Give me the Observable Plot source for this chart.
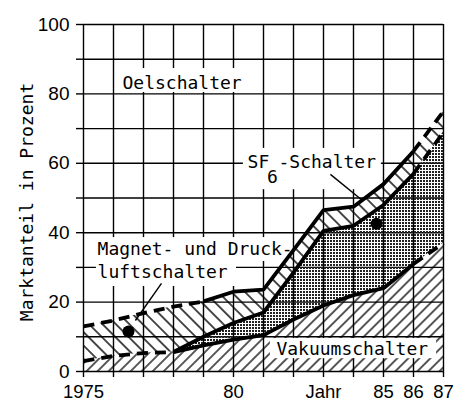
<!DOCTYPE html>
<html><head><meta charset="utf-8">
<script src="https://cdn.jsdelivr.net/npm/d3@7"></script>
<script src="https://cdn.jsdelivr.net/npm/@observablehq/plot@0.6"></script>
<style>body{margin:0;background:#fff}</style>
</head><body><div id="chart"></div>
<script>
// Data (market share in %, stacked bottom → top: Vakuum, SF6, Magnet/Druckluft, Oel)
const years   = [1975, 1976, 1977, 1978, 1979, 1980, 1981, 1982, 1983, 1984, 1985, 1986, 1987];
const vakuum  = [3, 4.5, 5.3, 5.6, 7.5, 9.2, 10.5, 15, 19, 22, 24, 31, 37];
const sf6     = [0, 0, 0, 0, 2.5, 4.8, 6.5, 13.5, 21.5, 20, 24, 26, 32];
const magnet  = [10, 10.2, 11.5, 13.1, 10.2, 9, 6.6, 6.5, 6, 5.5, 6, 6.5, 6];
const yTicks  = [0, 10, 20, 30, 40, 50, 60, 70, 80, 90, 100];
const xLabels = {1975: "1975", 1980: "80", 1983: "Jahr", 1985: "85", 1986: "86", 1987: "87"};
const yTitle  = "Marktanteil in Prozent";

// Annotations (data coordinates)
const labels = [
  {x: 1976.3,  y: 83.2, text: "Oelschalter"},
  {x: 1980.47, y: 60.2, text: "SF"},
  {x: 1981.12, y: 56.1, text: "6"},
  {x: 1981.5,  y: 60.2, text: "-Schalter"},
  {x: 1975.47, y: 35.1, text: "Magnet- und Druck-"},
  {x: 1975.47, y: 28.5, text: "luftschalter"},
  {x: 1981.43, y: 6.3,  text: "Vakuumschalter"}
];
const boxesBack = [
  {x1: 1976.17, x2: 1980.45, y1: 80.4, y2: 87.3},
  {x1: 1980.33, x2: 1984.93, y1: 52.4, y2: 64.3},
  {x1: 1975.43, x2: 1981.9,  y1: 31.7, y2: 38.6},
  {x1: 1975.43, x2: 1980.1,  y1: 24.5, y2: 31.7}
];
const boxesFront = [{x1: 1981.23, x2: 1986.77, y1: 3.7, y2: 9.5}];
const markers = [{x: 1976.5, y: 11.5}, {x: 1984.77, y: 42.6}];
const leaders = [
  {x1: 1977.6, y1: 25.4, x2: 1976.73, y2: 14.7},
  {x1: 1983.23, y1: 56.8, x2: 1984.3, y2: 49.3}
];

const rows = years.map((year, i) => {
  const v = vakuum[i], s = v + sf6[i], m = s + magnet[i];
  return {year, v, s, m};
});
const seg = (a, b) => rows.filter(d => d.year >= a && d.year <= b);

const mono = "DejaVu Sans Mono";
const sans = "Liberation Sans";
const thick = {strokeWidth: 3.8, stroke: "black", strokeLinecap: "butt", strokeLinejoin: "miter"};
const dash = {...thick, strokeDasharray: "11,7"};

const chart = Plot.plot({
  width: 465, height: 403,
  marginLeft: 83, marginRight: 22, marginTop: 24, marginBottom: 32,
  style: {background: "white", color: "black", overflow: "visible"},
  x: {domain: [1975, 1987], label: null, inset: 0},
  y: {domain: [0, 100], label: null, inset: 0},
  marks: [
    Plot.gridX({ticks: years, stroke: "black", strokeOpacity: 1, strokeWidth: 1.4}),
    Plot.gridY({ticks: yTicks, stroke: "black", strokeOpacity: 1, strokeWidth: 1.4}),
    Plot.rect(boxesBack, {x1: "x1", x2: "x2", y1: "y1", y2: "y2", fill: "white"}),
    Plot.areaY(rows, {x: "year", y1: 0, y2: "v", fill: "url(#hVak)", curve: "linear"}),
    Plot.areaY(rows, {x: "year", y1: "v", y2: "s", fill: "url(#dotSF6)", curve: "linear"}),
    Plot.areaY(rows, {x: "year", y1: "s", y2: "m", fill: "url(#hMag)", curve: "linear"}),
    Plot.rect(boxesFront, {x1: "x1", x2: "x2", y1: "y1", y2: "y2", fill: "white"}),
    // boundary lines
    Plot.line(seg(1975, 1978), {x: "year", y: "v", ...dash}),
    Plot.line(seg(1978, 1986), {x: "year", y: "v", ...thick}),
    Plot.line(seg(1986, 1987), {x: "year", y: "v", ...dash}),
    Plot.line(seg(1978, 1986), {x: "year", y: "s", ...thick}),
    Plot.line(seg(1986, 1987), {x: "year", y: "s", ...dash}),
    Plot.line(seg(1975, 1979), {x: "year", y: "m", ...dash}),
    Plot.line(seg(1979, 1986), {x: "year", y: "m", ...thick}),
    Plot.line(seg(1986, 1987), {x: "year", y: "m", ...dash}),
    Plot.dot(markers, {x: "x", y: "y", r: 6, fill: "black", stroke: null}),
    Plot.link(leaders, {x1: "x1", y1: "y1", x2: "x2", y2: "y2", stroke: "black", strokeWidth: 1.4}),
    Plot.text(labels, {x: "x", y: "y", text: "text", textAnchor: "start", fontFamily: mono, fontSize: 18, fill: "black"}),
    Plot.text([yTitle], {x: 1973.14, y: 48.85, text: d => d, rotate: -90, fontFamily: mono, fontSize: 18, fill: "black"}),
    Plot.axisY({ticks: yTicks, tickSize: 7, tickPadding: 7, tickFormat: d => d % 20 === 0 ? String(d) : "",
      fontSize: 19, fontFamily: sans, stroke: "black", strokeWidth: 1.4, label: null}),
    Plot.axisX({ticks: years, tickSize: 6, tickPadding: 7, tickFormat: d => xLabels[d] ?? "",
      fontSize: 18.5, fontFamily: sans, stroke: "black", strokeWidth: 1.4, label: null})
  ]
});

chart.insertAdjacentHTML("afterbegin", `<defs>
  <pattern id="hVak" patternUnits="userSpaceOnUse" width="7.8" height="7.8" patternTransform="rotate(45)">
    <line x1="3.9" y1="-1" x2="3.9" y2="9" stroke="black" stroke-width="1.3"/>
  </pattern>
  <pattern id="hMag" patternUnits="userSpaceOnUse" width="9.5" height="9.5" patternTransform="rotate(-45)">
    <line x1="4.75" y1="-1" x2="4.75" y2="11" stroke="black" stroke-width="1.4"/>
  </pattern>
  <pattern id="dotSF6" patternUnits="userSpaceOnUse" width="3" height="3">
    <rect x="0" y="0" width="2" height="2" fill="#222" shape-rendering="crispEdges"/>
  </pattern>
</defs>`);
document.getElementById("chart").appendChild(chart);
</script>
</body></html>
